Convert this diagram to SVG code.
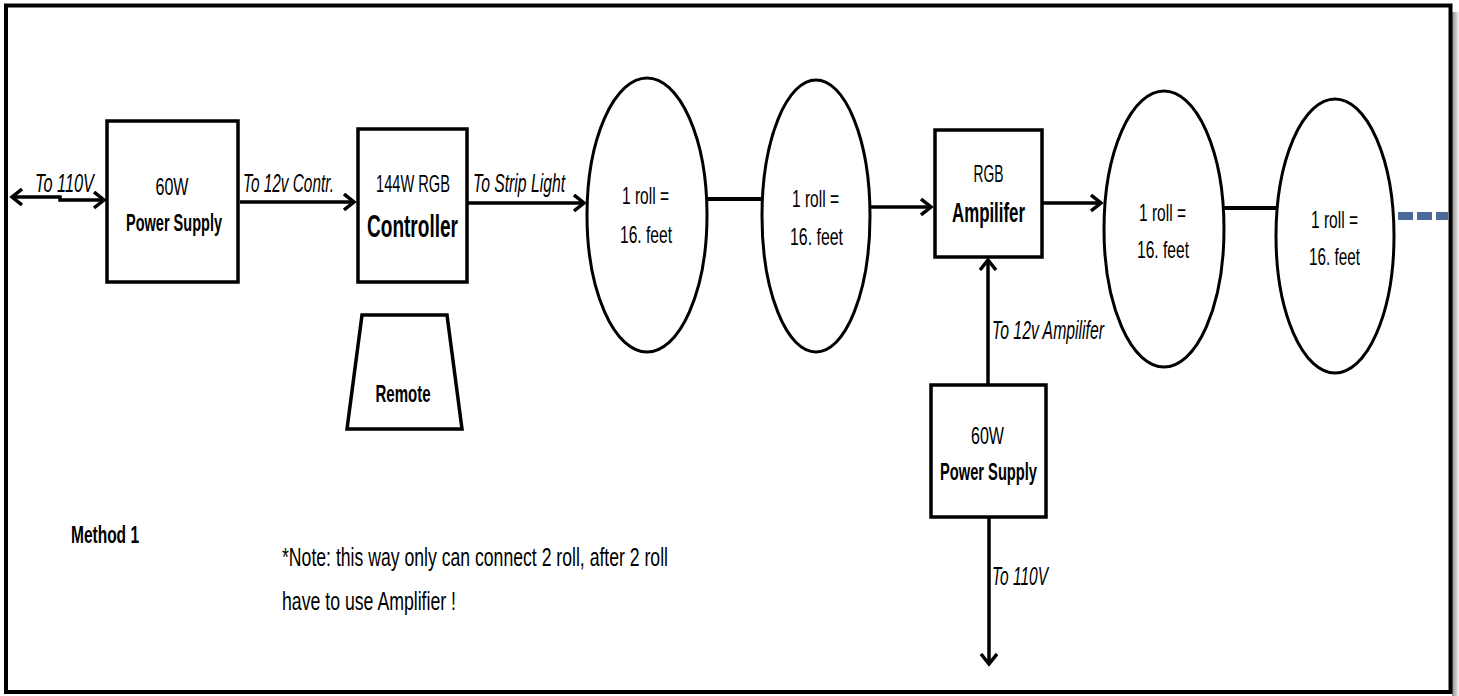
<svg xmlns="http://www.w3.org/2000/svg" width="1459" height="696" viewBox="0 0 1459 696">
<style>
.box{fill:#fff;stroke:#000;stroke-width:3.5}
.ell{fill:#fff;stroke:#000;stroke-width:3}
.con{fill:none;stroke:#000;stroke-width:3.5}
.t{font-family:"Liberation Sans Narrow","Liberation Sans",Arial,sans-serif;font-size:24px;fill:#000}
.b{font-weight:bold;font-size:24px}
.i{font-style:italic;font-size:25px}
.m{text-anchor:middle}
</style>
<defs>
<marker id="arr" markerUnits="userSpaceOnUse" markerWidth="16" markerHeight="20" refX="11" refY="9" orient="auto-start-reverse" viewBox="0 0 16 20">
<path d="M1,1 L11,9 L1,17" fill="none" stroke="#000" stroke-width="3.5" stroke-linejoin="miter"/>
</marker>
<linearGradient id="sh" x1="0" x2="1" y1="0" y2="0">
<stop offset="0" stop-color="#8a8a8a"/>
<stop offset="1" stop-color="#f4f4f4"/>
</linearGradient>
</defs>
<rect x="0" y="0" width="1459" height="696" fill="#fff"/>
<rect x="1452" y="12" width="7" height="684" fill="url(#sh)"/>
<rect x="6" y="5.5" width="1444.5" height="686.5" fill="none" stroke="#000" stroke-width="4"/>

<g id="connectors">
<path class="con" d="M12,197 H60 V200 H104" marker-start="url(#arr)" marker-end="url(#arr)"/>
<path class="con" d="M240,202 H354" marker-end="url(#arr)"/>
<path class="con" d="M468,203 H584" marker-end="url(#arr)"/>
<path class="con" d="M707,199 H762" style="stroke-width:4"/>
<path class="con" d="M870,207 H931" marker-end="url(#arr)"/>
<path class="con" d="M1042,203 H1101" marker-end="url(#arr)"/>
<path class="con" d="M1224,208 H1276" style="stroke-width:4"/>
<path d="M1398,216 H1448" fill="none" stroke="#4A6A9A" stroke-width="8" stroke-dasharray="15 4"/>
<path class="con" d="M988,385 V260" marker-end="url(#arr)"/>
<path class="con" d="M989,517 V664" marker-end="url(#arr)"/>
<text class="t i" x="35" y="192" textLength="59" lengthAdjust="spacingAndGlyphs">To 110V</text>
<text class="t i" x="243" y="192" textLength="91" lengthAdjust="spacingAndGlyphs">To 12v Contr.</text>
<text class="t i" x="473" y="192" textLength="92" lengthAdjust="spacingAndGlyphs">To Strip Light</text>
<text class="t i" x="992" y="339" textLength="112" lengthAdjust="spacingAndGlyphs">To 12v Ampilifer</text>
<text class="t i" x="992" y="585" textLength="56" lengthAdjust="spacingAndGlyphs">To 110V</text>
</g>

<g id="ps1">
<rect class="box" x="107" y="121" width="131" height="161"/>
<text class="t m" x="172" y="195" textLength="33" lengthAdjust="spacingAndGlyphs">60W</text>
<text class="t b m" x="174" y="231" textLength="96" lengthAdjust="spacingAndGlyphs">Power Supply</text>
</g>

<g id="controller">
<rect class="box" x="358" y="129" width="109" height="153"/>
<text class="t m" x="413" y="192" textLength="74" lengthAdjust="spacingAndGlyphs">144W RGB</text>
<text class="t b m" x="412.5" y="237" style="font-size:31px" textLength="91" lengthAdjust="spacingAndGlyphs">Controller</text>
</g>

<g id="remote">
<polygon class="box" points="362,315 447,315 462,429 347,429"/>
<text class="t b m" x="403" y="402" textLength="55" lengthAdjust="spacingAndGlyphs">Remote</text>
</g>

<g id="roll1">
<ellipse class="ell" cx="647" cy="215" rx="60" ry="137"/>
<text class="t m" x="645.5" y="204" textLength="47" lengthAdjust="spacingAndGlyphs">1 roll =</text>
<text class="t m" x="646" y="243" textLength="52" lengthAdjust="spacingAndGlyphs">16. feet</text>
</g>

<g id="roll2">
<ellipse class="ell" cx="816" cy="216" rx="54" ry="136"/>
<text class="t m" x="815.5" y="207" textLength="47" lengthAdjust="spacingAndGlyphs">1 roll =</text>
<text class="t m" x="816.5" y="245" textLength="53" lengthAdjust="spacingAndGlyphs">16. feet</text>
</g>

<g id="amplifier">
<rect class="box" x="935" y="130" width="107" height="127"/>
<text class="t m" x="988.5" y="182" textLength="30" lengthAdjust="spacingAndGlyphs">RGB</text>
<text class="t b m" x="988.5" y="222" style="font-size:28px" textLength="73" lengthAdjust="spacingAndGlyphs">Ampilifer</text>
</g>

<g id="roll3">
<ellipse class="ell" cx="1164" cy="229" rx="60" ry="138"/>
<text class="t m" x="1162.5" y="221" textLength="47" lengthAdjust="spacingAndGlyphs">1 roll =</text>
<text class="t m" x="1163" y="258" textLength="52" lengthAdjust="spacingAndGlyphs">16. feet</text>
</g>

<g id="roll4">
<ellipse class="ell" cx="1335" cy="236" rx="59" ry="137"/>
<text class="t m" x="1334.5" y="228" textLength="47" lengthAdjust="spacingAndGlyphs">1 roll =</text>
<text class="t m" x="1334.5" y="265" textLength="51" lengthAdjust="spacingAndGlyphs">16. feet</text>
</g>

<g id="ps2">
<rect class="box" x="931" y="385" width="115" height="132"/>
<text class="t m" x="987.5" y="444" textLength="33" lengthAdjust="spacingAndGlyphs">60W</text>
<text class="t b m" x="988.5" y="480" textLength="97" lengthAdjust="spacingAndGlyphs">Power Supply</text>
</g>

<g id="notes">
<text class="t b" x="71" y="543" textLength="68" lengthAdjust="spacingAndGlyphs">Method 1</text>
<text class="t" x="282" y="566" style="font-size:26px" textLength="386" lengthAdjust="spacingAndGlyphs">*Note: this way only can connect 2 roll, after 2 roll</text>
<text class="t" x="282" y="610" style="font-size:26px" textLength="174" lengthAdjust="spacingAndGlyphs">have to use Amplifier !</text>
</g>
</svg>
